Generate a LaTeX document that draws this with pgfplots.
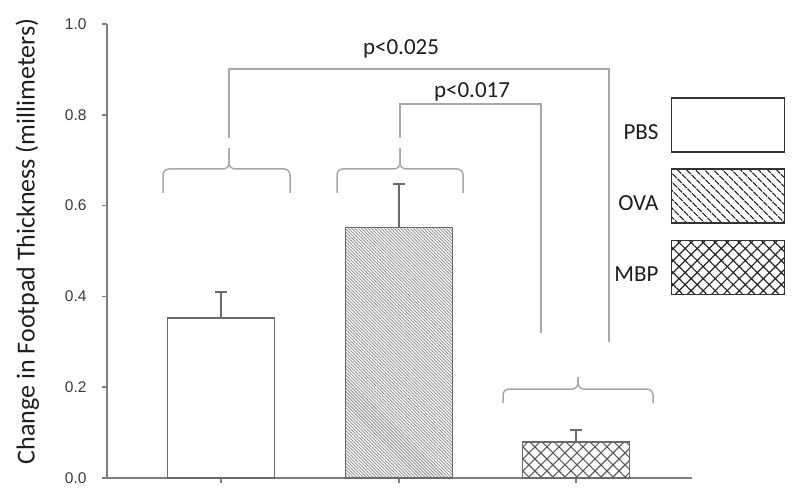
\documentclass[border=0pt]{standalone}
\usepackage{fontspec}
\setmainfont{Carlito}
\newfontfamily\arialfont{Liberation Sans}
\usepackage{pgfplots}
\pgfplotsset{compat=1.18}
\usetikzlibrary{patterns.meta}

\definecolor{axisgray}{HTML}{7F7F7F}
\definecolor{bargray}{HTML}{6A6A6A}
\definecolor{notegray}{HTML}{A8A8A8}
\definecolor{ticktext}{HTML}{3A3A3A}
\definecolor{labtext}{HTML}{1E1E1E}

\begin{document}
\begin{tikzpicture}
\useasboundingbox (-107pt,-23pt) rectangle (693pt,478pt);
\begin{axis}[
  at={(0pt,0pt)}, anchor=south west,
  scale only axis, width=585pt, height=454pt,
  xmin=107, xmax=692, ymin=0, ymax=1,
  axis lines*=left,
  axis line style={axisgray, line width=1.5pt},
  every tick/.style={axisgray, line width=1.5pt},
  tick align=outside, major tick length=5pt,
  xtick={221,399,576}, xticklabels={,,},
  ytick={0,0.2,...,1.0},
  /pgf/number format/assume math mode=true,
  yticklabel style={font=\arialfont\fontsize{15.5}{17}\selectfont, text=ticktext,
    /pgf/number format/fixed, /pgf/number format/fixed zerofill,
    /pgf/number format/precision=1, xshift=-12pt},
  ylabel={Change in Footpad Thickness (millimeters)},
  ylabel style={at={(rel axis cs:-0.136,0.521)}, anchor=center,
    font=\fontsize{26}{30}\selectfont, text=labtext},
  clip=false,
  legend style={at={(rel axis cs:1.159,0.839)}, anchor=north east,
    draw=none, fill=none, inner sep=0pt, outer sep=0pt,
    row sep=16pt, column sep=12pt,
    font=\fontsize{23}{27}\selectfont, text=labtext,
    nodes={inner sep=0pt}},
  legend plot pos=right, legend cell align=right,
  error bars/error bar style={bargray, line width=1.5pt},
  error bars/error mark options={bargray, line width=1.5pt, rotate=90, mark size=6pt},
]
% PBS
\addplot[ybar, bar width=107pt, bar shift=0pt, draw=bargray, fill=white, line width=1.5pt,
  legend image code/.code={\draw[line width=1.5pt, draw=black!80, fill=white]
    (0pt,-19.5pt) rectangle (113pt,34.5pt);},
  error bars/.cd, y dir=plus, y explicit]
  coordinates {(221,0.352) +- (0,0.058)};
\addlegendentry{PBS}
% OVA
\addplot[ybar, bar width=107pt, bar shift=0pt, draw=bargray, line width=1.2pt,
  pattern={Lines[angle=-45,distance=2.3pt,line width=0.9pt]}, pattern color=gray!85,
  legend image code/.code={\draw[line width=1.5pt, draw=black!80,
    pattern={Lines[angle=-45,distance=6.5pt,line width=1.2pt]}, pattern color=black!85]
    (0pt,-19.5pt) rectangle (113pt,34.5pt);},
  error bars/.cd, y dir=plus, y explicit]
  coordinates {(399,0.551) +- (0,0.097)};
\addlegendentry{OVA}
% MBP
\addplot[ybar, bar width=107pt, bar shift=0pt, draw=bargray, line width=1.5pt,
  pattern={Hatch[angle=45,distance=8.5pt,line width=1.1pt]}, pattern color=black!65,
  legend image code/.code={\draw[line width=1.5pt, draw=black!80,
    pattern={Hatch[angle=45,distance=8.5pt,line width=1.2pt]}, pattern color=black!85]
    (0pt,-19.5pt) rectangle (113pt,34.5pt);},
  error bars/.cd, y dir=plus, y explicit]
  coordinates {(576,0.079) +- (0,0.027)};
\addlegendentry{MBP}
\end{axis}

% significance brackets, in picture pixel coordinates
\begin{scope}[x=1pt, y=-1pt, shift={(-107pt,478pt)}, notegray, line width=1.5pt]
  \draw[rounded corners=6pt] (163,193) -- (163,169) -- (229,169) -- (229,148);
  \draw[rounded corners=6pt] (290,193) -- (290,169) -- (229,169) -- (229,148);
  \draw[rounded corners=6pt] (337,193) -- (337,169) -- (400,169) -- (400,148);
  \draw[rounded corners=6pt] (463,193) -- (463,169) -- (400,169) -- (400,148);
  \draw[rounded corners=6pt] (503,403) -- (503,389) -- (578,389) -- (578,377);
  \draw[rounded corners=6pt] (653,403) -- (653,389) -- (578,389) -- (578,377);
  \draw (229,138) -- (229,69) -- (609,69) -- (609,342);
  \draw (400,138) -- (400,104) -- (541,104) -- (541,333);
  \node[anchor=base, text=labtext, font=\fontsize{23}{27}\selectfont] at (401,55) {p<0.025};
  \node[anchor=base, text=labtext, font=\fontsize{23}{27}\selectfont] at (472,98) {p<0.017};
\end{scope}
\end{tikzpicture}
\end{document}
